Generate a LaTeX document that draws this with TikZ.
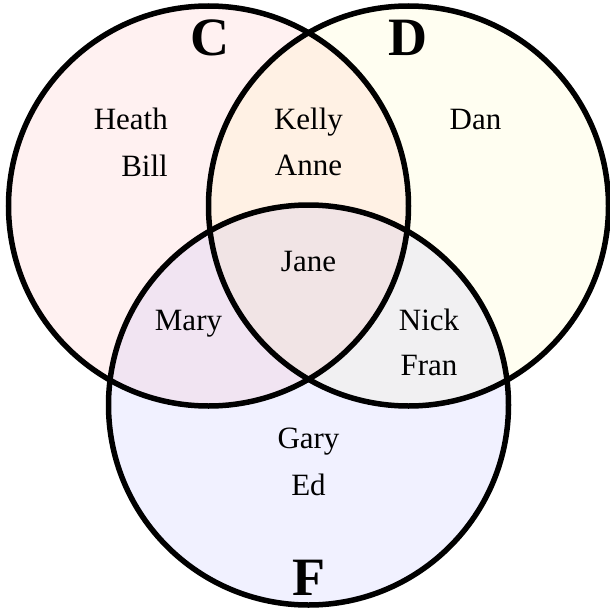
\documentclass[tikz,border=0pt]{standalone}
\usepackage{fontspec}
\setmainfont{Liberation Serif}
\begin{document}
\begin{tikzpicture}[x=1pt,y=-1pt,
  setfill/.style={fill opacity=0.055},
  setline/.style={draw=black,line width=5.5pt},
  nametext/.style={inner sep=0pt,font=\fontsize{31}{31}\selectfont,anchor=base},
  setlabel/.style={inner sep=0pt,font=\fontsize{54}{54}\selectfont\bfseries,anchor=base}]
\useasboundingbox (0,0) rectangle (610,613);
\coordinate (cC) at (208.5,206);
\coordinate (cD) at (408.5,206);
\coordinate (cF) at (308.5,405);
\fill[setfill,red] (cC) circle[radius=200];
\fill[setfill,yellow] (cD) circle[radius=200];
\fill[setfill,blue] (cF) circle[radius=200];
\draw[setline] (cC) circle[radius=200];
\draw[setline] (cD) circle[radius=200];
\draw[setline] (cF) circle[radius=200];
\node[setlabel] (lC) at (210,55) {C};
\node[setlabel] (lD) at (408,55) {D};
\node[setlabel] (lF) at (309,595) {F};
\node[nametext,anchor=base east] (heath) at (168,129) {Heath};
\node[nametext,anchor=base east] (bill) at (168,176) {Bill};
\node[nametext] (kelly) at (308.5,129) {Kelly};
\node[nametext] (anne) at (308.5,175) {Anne};
\node[nametext] (dan) at (475.5,129) {Dan};
\node[nametext] (jane) at (308.5,271) {Jane};
\node[nametext] (mary) at (188.5,330) {Mary};
\node[nametext] (nick) at (429,330) {Nick};
\node[nametext] (fran) at (429,375) {Fran};
\node[nametext] (gary) at (308.5,448) {Gary};
\node[nametext] (ed) at (308.5,495) {Ed};
\end{tikzpicture}
\end{document}
